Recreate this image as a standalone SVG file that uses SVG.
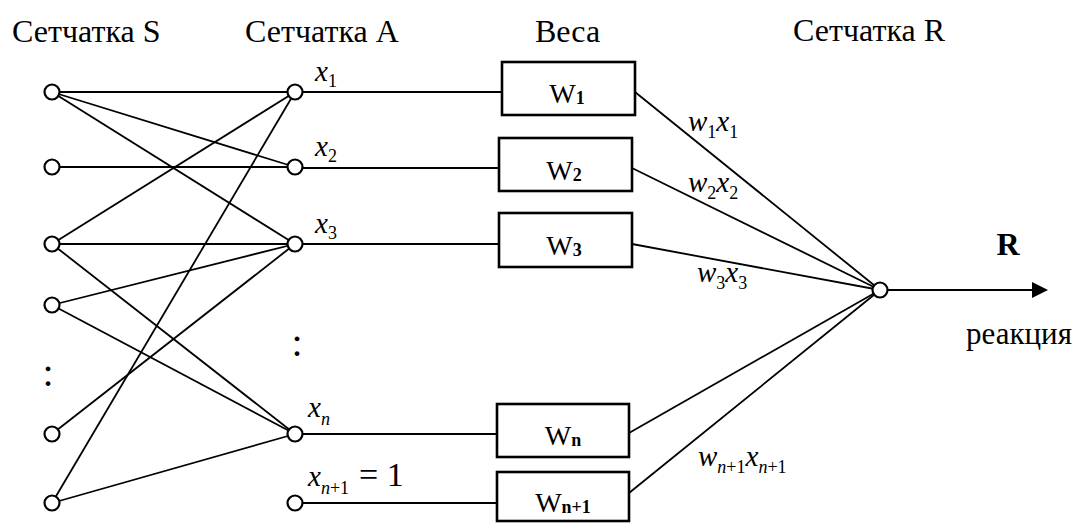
<svg xmlns="http://www.w3.org/2000/svg" width="1077" height="523" viewBox="0 0 1077 523">
<style>
text{fill:#000;font-family:"Liberation Serif","Times New Roman",serif}
.hdr{font-size:32px}
.it{font-size:29px;font-style:italic}
.sub{font-size:18px;font-style:normal}
.subi{font-size:18px;font-style:italic}
.wl{font-size:28px}
.wb{font-size:18px;font-weight:bold}
.node{fill:#fff;stroke:#000;stroke-width:2.2}
.box{fill:#fff;stroke:#000;stroke-width:2.6}
.ln{stroke:#000;stroke-width:1.8;fill:none}
</style>
<defs>
<marker id="arr" viewBox="0 0 16 16" refX="0" refY="8" markerWidth="16" markerHeight="16" markerUnits="userSpaceOnUse" orient="auto">
<path d="M0,0 L16,8 L0,16 Z" fill="#000"/>
</marker>
</defs>
<rect width="1077" height="523" fill="#fff"/>
<g id="headers">
<text class="hdr" x="12" y="42">Сетчатка S</text>
<text class="hdr" x="245" y="42">Сетчатка A</text>
<text class="hdr" x="535" y="42">Веса</text>
<text class="hdr" x="793" y="41">Сетчатка R</text>
</g>
<g id="connectors">
<line class="ln" x1="52" y1="92" x2="295" y2="92"/>
<line class="ln" x1="52" y1="92" x2="295" y2="167"/>
<line class="ln" x1="52" y1="92" x2="295" y2="244"/>
<line class="ln" x1="52" y1="167" x2="295" y2="167"/>
<line class="ln" x1="52" y1="244" x2="295" y2="92"/>
<line class="ln" x1="52" y1="244" x2="295" y2="244"/>
<line class="ln" x1="52" y1="244" x2="295" y2="434"/>
<line class="ln" x1="52" y1="305" x2="295" y2="244"/>
<line class="ln" x1="52" y1="305" x2="295" y2="434"/>
<line class="ln" x1="52" y1="434" x2="295" y2="244"/>
<line class="ln" x1="52" y1="503" x2="295" y2="92"/>
<line class="ln" x1="52" y1="503" x2="295" y2="434"/>
<line class="ln" x1="295" y1="92" x2="502" y2="92"/>
<line class="ln" x1="295" y1="168" x2="499" y2="168"/>
<line class="ln" x1="295" y1="244" x2="499" y2="244"/>
<line class="ln" x1="295" y1="434" x2="497" y2="434"/>
<line class="ln" x1="295" y1="503" x2="497" y2="503"/>
<line class="ln" x1="635" y1="92" x2="880" y2="290"/>
<line class="ln" x1="632" y1="168" x2="880" y2="290"/>
<line class="ln" x1="632" y1="244" x2="880" y2="290"/>
<line class="ln" x1="629" y1="433" x2="880" y2="290"/>
<line class="ln" x1="629" y1="493" x2="880" y2="290"/>
<line class="ln" x1="887" y1="290" x2="1032" y2="290" marker-end="url(#arr)"/>
</g>
<g id="S-layer">
<circle id="s1" class="node" cx="52" cy="92" r="7.5"/>
<circle id="s2" class="node" cx="52" cy="167" r="7.5"/>
<circle id="s3" class="node" cx="52" cy="244" r="7.5"/>
<circle id="s4" class="node" cx="52" cy="305" r="7.5"/>
<circle id="s5" class="node" cx="52" cy="434" r="7.5"/>
<circle id="s6" class="node" cx="52" cy="503" r="7.5"/>
<text x="48" y="386" text-anchor="middle" font-size="40">:</text>
</g>
<g id="A-layer">
<g id="a1"><circle class="node" cx="295" cy="92" r="7.5"/><text class="it" x="315" y="81">x<tspan class="sub" dy="6">1</tspan></text></g>
<g id="a2"><circle class="node" cx="295" cy="167" r="7.5"/><text class="it" x="315" y="156">x<tspan class="sub" dy="6">2</tspan></text></g>
<g id="a3"><circle class="node" cx="295" cy="244" r="7.5"/><text class="it" x="315" y="233">x<tspan class="sub" dy="6">3</tspan></text></g>
<g id="an"><circle class="node" cx="295" cy="434" r="7.5"/><text class="it" x="308" y="417">x<tspan class="subi" dy="8">n</tspan></text></g>
<g id="an1"><circle class="node" cx="295" cy="503" r="7.5"/><text class="it" x="308" y="486">x<tspan class="subi" dy="8">n</tspan><tspan class="sub">+1</tspan><tspan x="359" dy="-8" style="font-style:normal;font-size:34px">= 1</tspan></text></g>
<text x="297" y="356" text-anchor="middle" font-size="40">:</text>
</g>
<g id="W1"><rect class="box" x="502" y="62" width="133" height="53"/><text class="wl" x="567" y="103" text-anchor="middle">W<tspan class="wb" dy="1">1</tspan></text></g>
<g id="W2"><rect class="box" x="499" y="138" width="133" height="53"/><text class="wl" x="564" y="180" text-anchor="middle">W<tspan class="wb" dy="1">2</tspan></text></g>
<g id="W3"><rect class="box" x="499" y="213" width="133" height="54"/><text class="wl" x="564" y="255" text-anchor="middle">W<tspan class="wb" dy="1">3</tspan></text></g>
<g id="Wn"><rect class="box" x="497" y="404" width="132" height="53"/><text class="wl" x="563" y="445" text-anchor="middle">W<tspan class="wb" dy="1">n</tspan></text></g>
<g id="Wn1"><rect class="box" x="497" y="472" width="132" height="49"/><text class="wl" x="563" y="512" text-anchor="middle">W<tspan class="wb" dy="1">n+1</tspan></text></g>
<g id="products">
<text class="it" x="688" y="131">w<tspan class="sub" dy="7">1</tspan><tspan dy="-7">x</tspan><tspan class="sub" dy="7">1</tspan></text>
<text class="it" x="688" y="192">w<tspan class="sub" dy="7">2</tspan><tspan dy="-7">x</tspan><tspan class="sub" dy="7">2</tspan></text>
<text class="it" x="697" y="282">w<tspan class="sub" dy="7">3</tspan><tspan dy="-7">x</tspan><tspan class="sub" dy="7">3</tspan></text>
<text class="it" x="698" y="466">w<tspan class="subi" dy="7">n</tspan><tspan class="sub">+1</tspan><tspan dy="-7">x</tspan><tspan class="subi" dy="7">n</tspan><tspan class="sub">+1</tspan></text>
</g>
<g id="R">
<circle class="node" cx="880" cy="290" r="7.5"/>
<text x="1008" y="255" text-anchor="middle" font-size="32" font-weight="bold">R</text>
<text x="966" y="344" font-size="31">реакция</text>
</g>
</svg>
